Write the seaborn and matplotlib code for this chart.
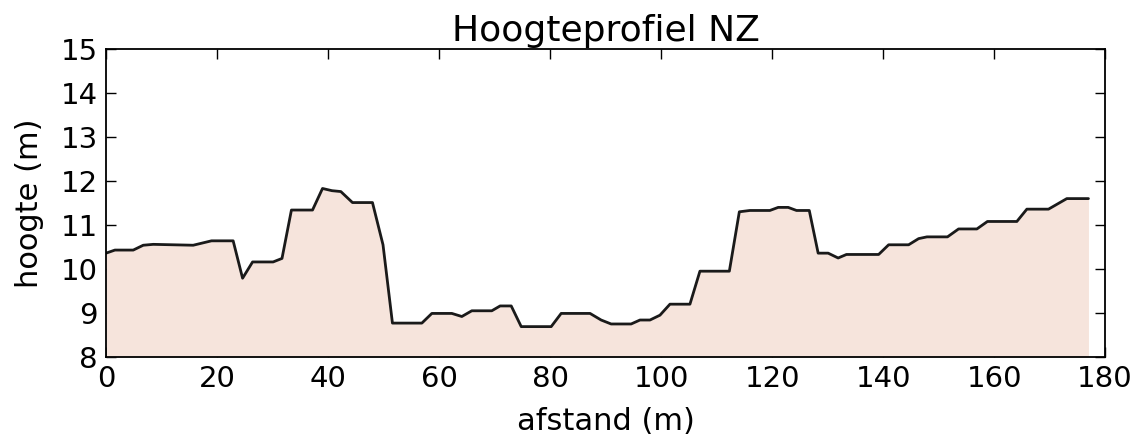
import numpy as np
import pandas as pd
import matplotlib
matplotlib.use('Agg')
import matplotlib.pyplot as plt
import seaborn as sns

# profile points (afstand in m, hoogte in m)
afstand = [0, 1.6, 4.9, 6.7, 8.5, 15.7, 19.0, 22.9, 24.6, 26.4, 30.1, 31.7, 33.4, 37.2,
           39.0, 40.7, 42.3, 44.4, 48.0, 49.9, 51.6, 56.9, 58.7, 62.3, 64.1, 65.9, 69.5,
           71.0, 73.0, 74.8, 80.2, 82.0, 87.2, 89.2, 91.0, 94.6, 96.2, 98.0, 99.8, 101.6,
           105.2, 107.0, 112.3, 114.1, 116.0, 119.6, 121.1, 122.9, 124.4, 126.7, 128.3,
           130.1, 131.9, 133.4, 139.2, 141.0, 144.6, 146.4, 147.9, 151.6, 153.6, 156.9,
           158.8, 164.1, 165.9, 169.8, 173.1, 177.0]
hoogte = [10.36, 10.43, 10.43, 10.54, 10.56, 10.54, 10.64, 10.64, 9.79, 10.16, 10.16, 10.24,
          11.34, 11.34, 11.83, 11.78, 11.76, 11.51, 11.51, 10.55, 8.77, 8.77, 8.99, 8.99,
          8.92, 9.05, 9.05, 9.16, 9.16, 8.69, 8.69, 8.99, 8.99, 8.84, 8.75, 8.75, 8.84,
          8.84, 8.95, 9.20, 9.20, 9.95, 9.95, 11.30, 11.33, 11.33, 11.40, 11.40, 11.33,
          11.33, 10.36, 10.36, 10.25, 10.33, 10.33, 10.55, 10.55, 10.69, 10.73, 10.73,
          10.91, 10.91, 11.08, 11.08, 11.36, 11.36, 11.60, 11.60]

df = pd.DataFrame({'afstand': afstand, 'hoogte': hoogte})

sns.set_style('ticks', {'xtick.direction': 'in', 'ytick.direction': 'in',
                        'axes.edgecolor': 'black', 'text.color': 'black',
                        'axes.labelcolor': 'black', 'xtick.color': 'black',
                        'ytick.color': 'black'})
plt.rcParams['font.family'] = ['DejaVu Sans']

fig, ax = plt.subplots(figsize=(11.44, 4.44), dpi=100)
fig.subplots_adjust(left=0.0927, right=0.966, top=0.8896, bottom=0.196)

ax.fill_between(df['afstand'], 8, df['hoogte'], color='#f6e4dc', lw=0)
sns.lineplot(data=df, x='afstand', y='hoogte', color='#1a1a1a', lw=2, ax=ax)

ax.set_xlim(0, 180)
ax.set_ylim(8, 15)
ax.set_xticks(range(0, 181, 20))
ax.set_yticks(range(8, 16))
ax.tick_params(top=True, right=True, length=7, width=1, labelsize=21, pad=6)
for s in ax.spines.values():
    s.set_linewidth(1.3)

ax.set_title('Hoogteprofiel NZ', fontsize=26, pad=6)
ax.set_xlabel('afstand (m)', fontsize=22, labelpad=10)
ax.set_ylabel('hoogte (m)', fontsize=22, labelpad=12)

plt.savefig('out.png', dpi=100)
